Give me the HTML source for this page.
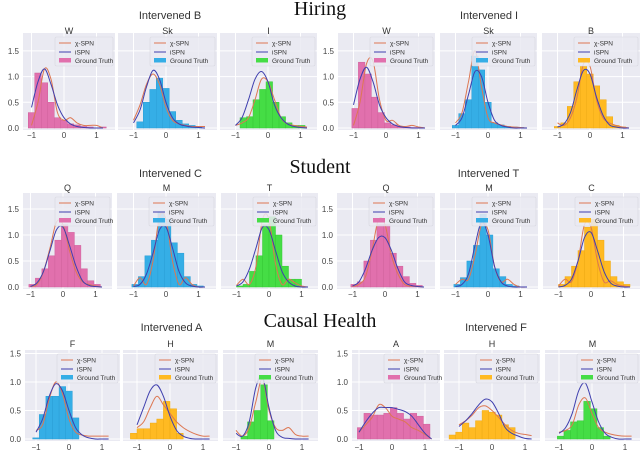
<!DOCTYPE html>
<html><head><meta charset="utf-8">
<style>
body{margin:0;background:#fff;width:640px;height:451px;overflow:hidden}
svg{display:block;font-family:"Liberation Sans","DejaVu Sans",sans-serif}
</style></head><body>
<svg id="fig" width="640" height="451" viewBox="0 0 640 451" xmlns="http://www.w3.org/2000/svg"></svg>
<script>
// ---- data ----
const yTickLabels = ["0.0","0.5","1.0","1.5"];
const yTickValues = [0,0.5,1.0,1.5];
const xTickValues = [-1,0,1];
const xTickLabels = ["\u22121","0","1"];
const curveX = [-1.0,-0.8,-0.6,-0.4,-0.2,0.0,0.2,0.4,0.6,0.8,1.0,1.2];
const sectionTitles = ["Hiring","Student","Causal Health"];
const groupTitles = ["Intervened B","Intervened I","Intervened C","Intervened T","Intervened A","Intervened F"];
const panelTitles = ["W","Sk","I","W","Sk","B","Q","M","T","Q","M","C","F","H","M","A","H","M"];
const panelColors = ["pink","blue","green","pink","blue","orange","pink","blue","green","pink","blue","orange","blue","orange","green","pink","orange","green"];
const binStarts = [-1.1,-0.9,-0.86,-1.05,-1.1,-1.1, -1.05,-1.05,-1.0,-1.05,-1.05,-1.0, -1.1,-1.2,-0.85,-1.05,-1.3,-1.05];
const binWidths = [0.2,0.2,0.2,0.2,0.2,0.2, 0.2,0.2,0.2,0.2,0.2,0.2, 0.2,0.2,0.2,0.2,0.2,0.2];
const histHeights = [
 [0.3,1.07,0.88,0.5,0.2,0.15,0.08,0.06,0.03,0.02,0.0,0.02],
 [0.12,0.5,0.75,0.97,0.77,0.32,0.15,0.08,0.05,0.02],
 [0.2,0.22,0.55,0.75,0.9,0.5,0.22,0.1,0.05,0.05],
 [0.38,1.28,1.05,0.6,0.3,0.1,0.06,0.03,0.02,0.01,0.01],
 [0.05,0.28,0.55,1.4,1.13,0.5,0.1,0.06,0.03,0.02,0.01,0],
 [0.03,0.1,0.42,0.9,1.2,1.05,0.82,0.55,0.22,0.05,0.02],
 [0.05,0.17,0.35,0.6,0.9,1.2,1.05,0.8,0.35,0.12,0.05],
 [0.05,0.2,0.6,0.9,1.45,1.3,0.85,0.65,0.2,0.05,0.02],
 [0.02,0.05,0.3,0.6,1.2,1.35,1.0,0.4,0.15,0.15],
 [0.05,0.1,0.5,0.9,1.2,1.2,0.65,0.4,0.2,0.07,0.03],
 [0.05,0.18,0.5,0.8,1.4,1.0,0.35,0.2,0.05,0.02],
 [0.05,0.2,0.4,0.7,1.15,1.3,0.9,0.5,0.2,0.1,0.05],
 [0.02,0.43,0.75,0.75,0.92,0.84,0.37],
 [0.1,0.18,0.18,0.28,0.35,0.66,0.53,0.1],
 [0.05,0.3,0.5,0.95,0.32],
 [0.2,0.45,0.42,0.42,0.45,0.55,0.45,0.35,0.45,0.4,0.26],
 [0.07,0.12,0.28,0.2,0.32,0.5,0.47,0.42,0.25,0.2],
 [0.05,0.15,0.3,0.32,0.66,0.53,0.2,0.05]
];
const ispnValues = [
 [0.4,0.9,1.15,0.85,0.45,0.2,0.08,0.03,0.01,0,0,0],
 [0.1,0.35,0.8,1.12,0.95,0.5,0.2,0.08,0.04,0.02,0.01,0],
 [0.05,0.2,0.55,0.95,1.1,0.9,0.45,0.2,0.08,0.03,0.01,0],
 [0.45,0.95,1.18,0.9,0.45,0.2,0.08,0.03,0.01,0,0,0],
 [0.05,0.2,0.65,1.1,1.0,0.5,0.15,0.05,0.02,0,0,0],
 [0.02,0.08,0.3,0.75,1.12,1.05,0.6,0.25,0.06,0.02,0,0],
 [0.01,0.08,0.3,0.7,1.1,1.15,0.8,0.4,0.12,0.03,0.01,0],
 [0.01,0.05,0.25,0.65,1.1,1.15,0.75,0.3,0.08,0.02,0,0],
 [0.02,0.1,0.35,0.75,1.15,1.1,0.7,0.3,0.1,0.02,0,0],
 [0.02,0.1,0.35,0.7,0.95,0.95,0.7,0.35,0.1,0.03,0.01,0],
 [0.01,0.05,0.25,0.8,1.25,1.0,0.4,0.1,0.02,0,0,0],
 [0,0.03,0.15,0.5,0.95,1.05,0.7,0.3,0.08,0.02,0,0],
 [0.12,0.35,0.75,0.97,0.85,0.5,0.2,0.07,0.02,0,0,0],
 [0.25,0.55,0.85,0.95,0.75,0.4,0.15,0.05,0.01,0,0,0],
 [0.1,0.05,0.3,0.9,1.1,0.55,0.15,0.03,0.01,0,0,0],
 [0.12,0.3,0.45,0.55,0.55,0.55,0.52,0.48,0.4,0.25,0.1,0],
 [0.22,0.32,0.45,0.6,0.7,0.65,0.45,0.2,0.1,0.05,0.01,0],
 [0.1,0.2,0.45,0.85,0.98,0.65,0.3,0.1,0.03,0,0,0]
];
const chiValues = [
 [0.05,0.5,1.15,0.95,0.3,0.15,0.2,0.1,0.05,0.05,0.05,0],
 [0.15,0.45,0.85,1.05,0.85,0.4,0.15,0.08,0.05,0.03,0.03,0.03],
 [0.05,0.1,0.2,0.55,0.95,0.9,0.55,0.2,0.08,0.05,0.03,0.02],
 [0.05,0.5,1.25,1.3,0.55,0.15,0.15,0.05,0.03,0.05,0.02,0],
 [0.1,0.3,0.9,1.5,0.8,0.2,0.1,0.06,0.03,0.02,0.01,0],
 [0.1,0.05,0.2,0.6,1.25,1.2,0.55,0.2,0.1,0.05,0.02,0],
 [0.01,0.05,0.3,0.75,1.25,1.2,0.7,0.3,0.1,0.05,0.02,0],
 [0.02,0.18,0.05,0.5,1.35,1.3,0.5,0.05,0.18,0.05,0,0],
 [0.03,0.15,0.05,0.4,1.3,1.3,0.45,0.05,0.15,0.08,0.02,0],
 [0.01,0.05,0.2,0.7,1.3,1.2,0.6,0.25,0.05,0.02,0.01,0],
 [0.05,0.15,0.15,0.6,1.2,1.1,0.4,0.1,0.15,0.05,0,0],
 [0.02,0.15,0.1,0.5,1.2,1.15,0.5,0.1,0.12,0.05,0.02,0],
 [0.15,0.25,0.7,1.0,0.8,0.35,0.12,0.07,0.05,0.05,0.05,0.05],
 [0.2,0.3,0.55,0.75,0.6,0.45,0.3,0.2,0.13,0.08,0.05,0.05],
 [0.15,0.05,0.2,0.65,1.05,0.5,0.2,0.15,0.2,0.08,0.05,0.05],
 [0.12,0.25,0.38,0.6,0.55,0.4,0.35,0.3,0.2,0.15,0.08,0],
 [0.25,0.32,0.42,0.55,0.58,0.5,0.38,0.25,0.15,0.1,0.08,0.06],
 [0.12,0.15,0.25,0.6,0.72,0.45,0.2,0.12,0.08,0.06,0.05,0.05]
];
// ---- layout (not data) ----
const rows = [
 {lefts:[23,118,220,338,440,542], rights:[115,217,317,435,537,640], zeros:[64,166,268,386,488,590], unit:32.5, top:33, y0:128, bottom:130, lab:138, ppu:51.4, sec:15, grp:15, pt:30},
 {lefts:[23,117,221,337,440,543], rights:[112,216,318,435,538,640], zeros:[63,166,269,385,488,591], unit:32.5, top:193, y0:287, bottom:289, lab:297, ppu:52, sec:173, grp:173, pt:187},
 {lefts:[25,123,223,352,444,545], rights:[120,218,318,440,540,640], zeros:[69,170,269,392,492,592], unit:33, top:350, y0:439, bottom:441, lab:450, ppu:57, sec:327, grp:327, pt:343}
];
const fills = {pink:"#e170ad",blue:"#35aee6",green:"#45dd45",orange:"#ffba22"};
const edges = {pink:"#d0609c",blue:"#2a9ed6",green:"#36c936",orange:"#eeaa15"};
const svg = document.getElementById('fig');
const NS = "http://www.w3.org/2000/svg";
function mk(tag, attrs, parent){const e=document.createElementNS(NS,tag);for(const k in attrs)e.setAttribute(k,attrs[k]);(parent||svg).appendChild(e);return e;}
function txt(s, attrs, parent){const e=mk('text',attrs,parent);e.textContent=s;return e;}
function smooth(pts){
  let d="M"+pts[0][0].toFixed(1)+","+pts[0][1].toFixed(1);
  for(let i=0;i<pts.length-1;i++){
    const p0=pts[Math.max(i-1,0)],p1=pts[i],p2=pts[i+1],p3=pts[Math.min(i+2,pts.length-1)];
    const c1=[p1[0]+(p2[0]-p0[0])/6,p1[1]+(p2[1]-p0[1])/6];
    const c2=[p2[0]-(p3[0]-p1[0])/6,p2[1]-(p3[1]-p1[1])/6];
    d+=" C"+c1[0].toFixed(1)+","+c1[1].toFixed(1)+" "+c2[0].toFixed(1)+","+c2[1].toFixed(1)+" "+p2[0].toFixed(1)+","+p2[1].toFixed(1);
  }
  return d;
}
rows.forEach((r,ri)=>{
  const st=txt(sectionTitles[ri],{x:320,y:r.sec,'text-anchor':'middle','font-family':'"Liberation Serif",serif','font-size':20,fill:'#111'});
  
  
  [0,1].forEach(g=>{
    const cx=(r.lefts[g*3]+r.rights[g*3+2])/2;
    const gt=txt(groupTitles[ri*2+g],{x:cx,y:r.grp+4,'text-anchor':'middle','font-size':11,fill:'#333'});
    
    
  });
  for(let p=0;p<6;p++){
    const idx=ri*6+p;
    const L=r.lefts[p],R=r.rights[p],T=r.top,B=r.bottom;
    const xs=v=>r.zeros[p]+v*r.unit;
    const ys=v=>r.y0-v*r.ppu;
    const g=mk('g',{});
    
    
    const clip=mk('clipPath',{id:'c'+idx},g);mk('rect',{x:L,y:T,width:R-L,height:B-T},clip);
    const bg=mk('rect',{x:L,y:T,width:R-L,height:B-T,fill:'#eaeaf2'},g);
    
    
    xTickValues.forEach((v,i)=>{
      mk('line',{x1:xs(v),x2:xs(v),y1:T,y2:B,stroke:'#fff','stroke-width':1},g);
      const t=txt(xTickLabels[i],{x:xs(v),y:r.lab,'text-anchor':'middle','font-size':8,fill:'#444'},g);
      
      
    });
    yTickValues.forEach((v,i)=>{
      mk('line',{x1:L,x2:R,y1:ys(v),y2:ys(v),stroke:'#fff','stroke-width':1},g);
      if(p===0||p===3){
        const t=txt(yTickLabels[i],{x:L-4,y:ys(v)+3,'text-anchor':'end','font-size':8,fill:'#444'},g);
        
        
      }
    });
    const pt=txt(panelTitles[idx],{x:(L+R)/2,y:r.pt+4,'text-anchor':'middle','font-size':9,fill:'#333'},g);
    
    
    const cg=mk('g',{'clip-path':'url(#c'+idx+')'},g);
    const col=panelColors[idx];
    histHeights[idx].forEach((h,i)=>{
      if(h<=0)return;
      const x0=xs(binStarts[idx]+i*binWidths[idx]),x1=xs(binStarts[idx]+(i+1)*binWidths[idx]);
      const b=mk('rect',{x:x0,y:ys(h),width:x1-x0,height:r.y0-ys(h),fill:fills[col],stroke:edges[col],'stroke-width':0.5},cg);
      
      
    });
    const ptsI=curveX.map((x,i)=>[xs(x),ys(ispnValues[idx][i])]);
    const ptsC=curveX.map((x,i)=>[xs(x),ys(chiValues[idx][i])]);
    const lc=mk('path',{d:smooth(ptsC),fill:'none',stroke:'#dd7752','stroke-width':1},cg);
    
    
    const li=mk('path',{d:smooth(ptsI),fill:'none',stroke:'#3f3fae','stroke-width':1},cg);
    
    
    const lg=mk('g',{},g);
    
    
    const lx=L+32, ly=T+4;
    mk('rect',{x:lx,y:ly,width:R-lx-2,height:29,fill:'#eaeaf2','fill-opacity':0.85,stroke:'#d8d8e0','stroke-width':0.6,rx:1.5},lg);
    mk('line',{x1:lx+4,x2:lx+16,y1:ly+6,y2:ly+6,stroke:'#dd7752','stroke-width':1},lg);
    mk('line',{x1:lx+4,x2:lx+16,y1:ly+15,y2:ly+15,stroke:'#3f3fae','stroke-width':1},lg);
    mk('rect',{x:lx+4,y:ly+21,width:12,height:4.5,fill:fills[col]},lg);
    txt('\u03c7-SPN',{x:lx+20,y:ly+8.5,'font-size':6.5,fill:'#333'},lg);
    txt('iSPN',{x:lx+20,y:ly+17.5,'font-size':6.5,fill:'#333'},lg);
    txt('Ground Truth',{x:lx+20,y:ly+26,'font-size':6.5,fill:'#333'},lg);
  }
});
</script>
</body></html>
